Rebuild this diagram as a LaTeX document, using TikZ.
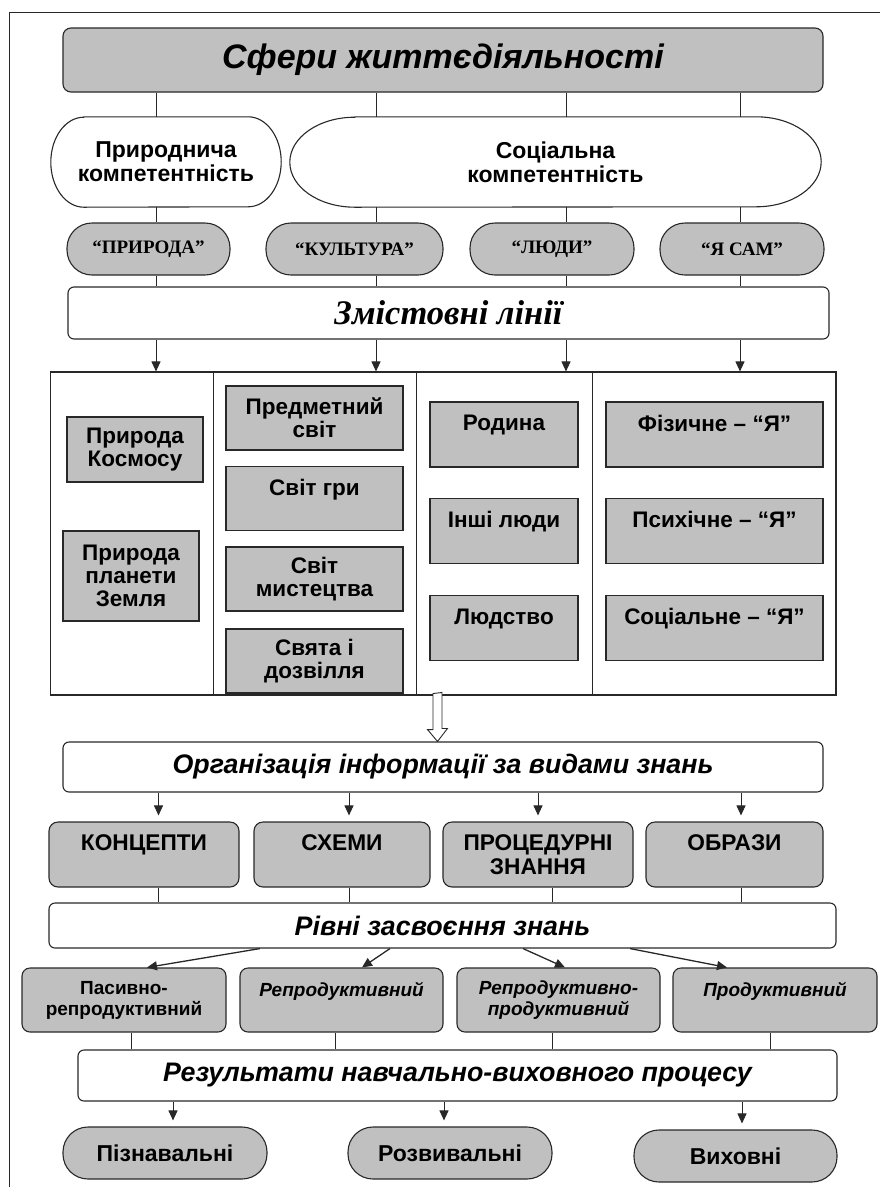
\documentclass[tikz,border=0pt]{standalone}
\usepackage{fontspec}
\setmainfont{Liberation Sans}
\newfontfamily\timesfam{Liberation Serif}
\usetikzlibrary{arrows.meta}
\definecolor{boxgray}{RGB}{192,192,192}
\definecolor{inkline}{RGB}{40,40,40}
\tikzset{
  every node/.style={inner sep=0.75pt},
  sbox/.style={draw=inkline, line width=1.1pt, fill=boxgray, rounded corners=8, align=center},
  wbox/.style={draw=inkline, line width=1.1pt, fill=white, rounded corners=6, align=center},
  pill/.style={draw=inkline, line width=1.1pt, fill=boxgray, rounded corners=25, align=center},
  cell/.style={draw=inkline, line width=1.1pt, fill=boxgray, align=center, font=\fontsize{22.5}{23}\selectfont\bfseries},
  kind/.style={sbox, rounded corners=9, minimum height=65, font=\fontsize{22.7}{24}\selectfont\bfseries},
  lvl/.style={sbox, minimum height=64, font=\fontsize{19}{21}\selectfont\bfseries},
  lvlit/.style={lvl, font=\fontsize{19}{21}\selectfont\bfseries\itshape},
  qtext/.style={font=\timesfam\fontsize{19}{21}\selectfont\bfseries},
  headit/.style={font=\fontsize{26.8}{28}\selectfont\bfseries\itshape},
  link/.style={draw=inkline, line width=0.9pt},
  arr/.style={link, -{Triangle[length=10pt,width=9pt]}},
}
\begin{document}
\begin{tikzpicture}[x=1pt,y=1pt,yscale=-1,xscale=1]
\useasboundingbox (0,0) rectangle (880,1187);

%Frame
\draw[draw=inkline, line width=1pt] (9,1187) -- (9,12.5) -- (880,12.5);

%Shape: Rounded Rect (title)
\node (sfery) at (443,60) [sbox, minimum width=760, minimum height=64, font=\fontsize{34}{36}\selectfont\bfseries\itshape] {Сфери життєдіяльності};

%Shape: Capsules (competences)
\node (pryrkomp) at (166,162) [minimum width=230, minimum height=90, align=center, font=\fontsize{23}{24}\selectfont\bfseries] {Природнича\\компетентність};
\draw[link, line width=1.1pt] ([xshift=33pt]pryrkomp.north west) -- ([xshift=-33pt]pryrkomp.north east) arc[start angle=-90, end angle=90, x radius=33, y radius=45] -- ([xshift=33pt]pryrkomp.south west) arc[start angle=90, end angle=270, x radius=33, y radius=45] -- cycle;
\node (sockomp) at (555.5,162) [minimum width=531, minimum height=90, align=center, font=\fontsize{23}{24}\selectfont\bfseries] {Соціальна\\компетентність};
\draw[link, line width=1.1pt] ([xshift=65pt]sockomp.north west) -- ([xshift=-65pt]sockomp.north east) arc[start angle=-90, end angle=90, x radius=65, y radius=45] -- ([xshift=65pt]sockomp.south west) arc[start angle=90, end angle=270, x radius=65, y radius=45] -- cycle;

%Shape: Pills
\node (pryroda) at (148.5,249) [pill, qtext, minimum width=163, minimum height=52] {“ПРИРОДА”};
\node (kultura) at (354.5,249) [pill, qtext, minimum width=177, minimum height=52] {“КУЛЬТУРА”};
\node (liudy) at (552,249) [pill, qtext, minimum width=164, minimum height=52] {“ЛЮДИ”};
\node (yasam) at (742,249) [pill, qtext, minimum width=164, minimum height=52] {“Я САМ”};

%Shape: Rounded Rect (content lines)
\node (zmist) at (448.5,313) [wbox, minimum width=761, minimum height=52, font=\timesfam\fontsize{34.5}{36}\selectfont\bfseries\itshape] {Змістовні лінії};

%Straight Lines
\coordinate (c1) at (156,0);
\coordinate (c2) at (376,0);
\coordinate (c3) at (566,0);
\coordinate (c4) at (740,0);
\draw[link] (c1 |- sfery.south) -- (c1 |- pryrkomp.north);
\draw[link] (c2 |- sfery.south) -- (c2 |- sockomp.north);
\draw[link] (c3 |- sfery.south) -- (c3 |- sockomp.north);
\draw[link] (c4 |- sfery.south) -- (c4 |- sockomp.north);
\draw[link] (c1 |- pryrkomp.south) -- (c1 |- pryroda.north);
\draw[link] (c2 |- sockomp.south) -- (c2 |- kultura.north);
\draw[link] (c3 |- sockomp.south) -- (c3 |- liudy.north);
\draw[link] (c4 |- sockomp.south) -- (c4 |- yasam.north);
\draw[link] (c1 |- pryroda.south) -- (c1 |- zmist.north);
\draw[link] (c2 |- kultura.south) -- (c2 |- zmist.north);
\draw[link] (c3 |- liudy.south) -- (c3 |- zmist.north);
\draw[link] (c4 |- yasam.south) -- (c4 |- zmist.north);

%Shape: Rectangle (four columns)
\node (zmfr) at (443.25,533.5) [draw=inkline, line width=1.1pt, minimum width=785.5, minimum height=323] {};
\coordinate (d1) at (213,0);
\coordinate (d2) at (416,0);
\coordinate (d3) at (592,0);
\draw[link] (d1 |- zmfr.north) -- (d1 |- zmfr.south);
\draw[link] (d2 |- zmfr.north) -- (d2 |- zmfr.south);
\draw[link] (d3 |- zmfr.north) -- (d3 |- zmfr.south);
\foreach \c in {c1,c2,c3,c4}
  \draw[arr] (\c |- zmist.south) -- (\c |- zmfr.north);

% Column 1
\node (kosmos) at (135,449.5) [cell, minimum width=136, minimum height=65] {Природа\\Космосу};
\node (zemlia) at (131,576) [cell, minimum width=136, minimum height=90] {Природа\\планети\\Земля};
% Column 2
\node (predmet) at (314.5,418) [cell, minimum width=177, minimum height=64] {Предметний\\світ};
\node (hra) at (314.5,498.5) [cell, minimum width=177, minimum height=64] {Світ гри\\~};
\node (myst) at (314.5,579) [cell, minimum width=177, minimum height=64] {Світ\\мистецтва};
\node (sviata) at (314.5,661) [cell, minimum width=177, minimum height=64] {Свята і\\дозвілля};
% Column 3
\node (rodyna) at (504,434.5) [cell, minimum width=148, minimum height=65] {Родина\\~};
\node (inshi) at (504,531) [cell, minimum width=148, minimum height=65] {Інші люди\\~};
\node (liudstvo) at (504,628) [cell, minimum width=148, minimum height=65] {Людство\\~};
% Column 4
\node (fiz) at (714.5,434.5) [cell, minimum width=217, minimum height=65] {Фізичне – “Я”\\~};
\node (psykh) at (714.5,531) [cell, minimum width=217, minimum height=65] {Психічне – “Я”\\~};
\node (sots) at (714.5,628) [cell, minimum width=217, minimum height=65] {Соціальне – “Я”\\~};

%Shape: Rounded Rect (organisation)
\node (org) at (443,767) [wbox, headit, minimum width=760, minimum height=50] {Організація інформації за видами знань};

%Hollow arrow
\coordinate (hs) at (437.5,0);
\draw[link, fill=white] (hs |- zmfr.south) ++(-4.5,-2) -- ++(0,36) -- ++(-5.5,0) -- (hs |- org.north) -- ++(10,-13) -- ++(-5.5,0) -- ++(0,-36) -- cycle;

%Shape: Rounded Rect (kinds of knowledge)
\node (konc) at (144,854.5) [kind, minimum width=190] {КОНЦЕПТИ\\~};
\node (skhemy) at (342,854.5) [kind, minimum width=176] {СХЕМИ\\~};
\node (proc) at (538,854.5) [kind, minimum width=190] {ПРОЦЕДУРНІ\\ЗНАННЯ};
\node (obrazy) at (734.5,854.5) [kind, minimum width=177] {ОБРАЗИ\\~};
\coordinate (k1) at (158.5,0);
\coordinate (k2) at (349,0);
\coordinate (k3) at (538,0);
\coordinate (k3l) at (552,0);
\coordinate (k4) at (741,0);
\draw[arr, shorten >=6pt] (k1 |- org.south) -- (k1 |- konc.north);
\draw[arr, shorten >=6pt] (k2 |- org.south) -- (k2 |- skhemy.north);
\draw[arr, shorten >=6pt] (k3 |- org.south) -- (k3 |- proc.north);
\draw[arr, shorten >=6pt] (k4 |- org.south) -- (k4 |- obrazy.north);

%Shape: Rounded Rect (levels)
\node (rivni) at (442.5,925.5) [wbox, headit, minimum width=787, minimum height=45] {Рівні засвоєння знань};
\draw[link] (k1 |- konc.south) -- (k1 |- rivni.north);
\draw[link] (k2 |- skhemy.south) -- (k2 |- rivni.north);
\draw[link] (k3l |- proc.south) -- (k3l |- rivni.north);
\draw[link] (k4 |- obrazy.south) -- (k4 |- rivni.north);

\node (lev1) at (124,1000) [lvl, minimum width=204] {Пасивно-\\репродуктивний};
\node (lev2) at (341.5,1000) [lvlit, minimum width=203] {Репродуктивний\\~};
\node (lev3) at (558.5,1000) [lvlit, minimum width=203] {Репродуктивно-\\продуктивний};
\node (lev4) at (775,1000) [lvlit, minimum width=204] {Продуктивний\\~};
\draw[arr, line width=1.3pt] ([xshift=-182.5pt]rivni.south) -- ([xshift=23pt]lev1.north);
\draw[arr, line width=1.3pt] ([xshift=-52.5pt]rivni.south) -- ([xshift=20.5pt]lev2.north);
\draw[arr, line width=1.3pt] ([xshift=80.5pt]rivni.south) -- ([xshift=6.5pt]lev3.north);
\draw[arr, line width=1.3pt] ([xshift=187.5pt]rivni.south) -- ([xshift=-48pt]lev4.north);

%Shape: Rounded Rect (results)
\node (rezult) at (457.5,1075.5) [wbox, headit, minimum width=759, minimum height=51] {Результати навчально-виховного процесу};
\coordinate (l1) at (131,0);
\coordinate (l2) at (335,0);
\coordinate (l3) at (552,0);
\coordinate (l4) at (770,0);
\draw[link] (l1 |- lev1.south) -- (l1 |- rezult.north);
\draw[link] (l2 |- lev2.south) -- (l2 |- rezult.north);
\draw[link] (l3 |- lev3.south) -- (l3 |- rezult.north);
\draw[link] (l4 |- lev4.south) -- (l4 |- rezult.north);

%Shape: Pills (results)
\node (piz) at (165,1153) [pill, minimum width=204, minimum height=52, font=\fontsize{23}{24}\selectfont\bfseries] {Пізнавальні};
\node (rozv) at (450,1153) [pill, minimum width=204, minimum height=52, font=\fontsize{23}{24}\selectfont\bfseries] {Розвивальні};
\node (vykh) at (735.5,1156) [pill, minimum width=203, minimum height=52, font=\fontsize{23}{24}\selectfont\bfseries] {Виховні};
\coordinate (r1) at (173,0);
\coordinate (r2) at (444,0);
\coordinate (r3) at (742,0);
\draw[arr, shorten >=6pt] (r1 |- rezult.south) -- (r1 |- piz.north);
\draw[arr, shorten >=6pt] (r2 |- rezult.south) -- (r2 |- rozv.north);
\draw[arr, shorten >=6pt] (r3 |- rezult.south) -- (r3 |- vykh.north);

\end{tikzpicture}
\end{document}
